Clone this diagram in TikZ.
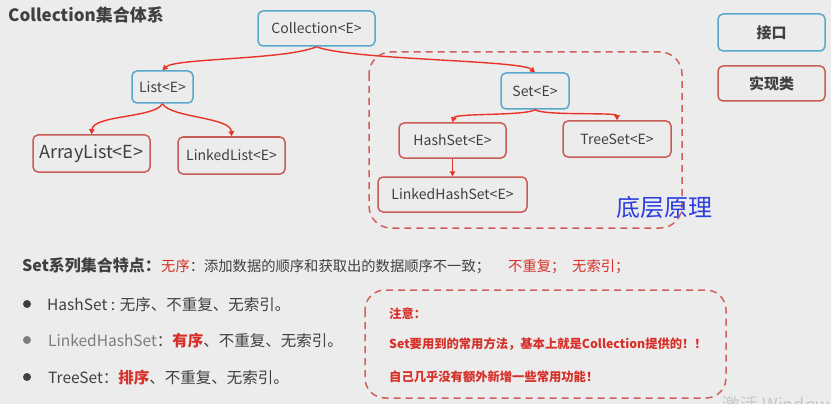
\documentclass[tikz,border=0pt]{standalone}
\usepackage{fontspec}
\setmainfont{Noto Sans CJK SC}
\usetikzlibrary{arrows.meta}
\definecolor{bg}{RGB}{236,236,236}
\definecolor{ifblue}{RGB}{88,168,204}
\definecolor{clsred}{RGB}{200,92,86}
\definecolor{arrred}{RGB}{232,52,38}
\definecolor{txt}{RGB}{64,64,64}
\definecolor{softtxt}{RGB}{125,125,125}
\definecolor{hired}{RGB}{214,48,40}
\definecolor{dashred}{RGB}{208,96,90}
\definecolor{penblue}{RGB}{45,62,225}
\definecolor{wm}{RGB}{200,200,200}
\begin{document}
\begin{tikzpicture}[x=1pt,y=-1pt,
  box/.style={draw, line width=1.5pt, rounded corners=5pt, inner sep=0pt, text=txt, font=\fontsize{14}{16}\selectfont},
  iface/.style={box, draw=ifblue},
  impl/.style={box, draw=clsred},
  arr/.style={draw=arrred, line width=1.4pt, -{Triangle[length=5pt,width=5.5pt]}},
  grp/.style={draw=dashred, line width=1.5pt, dash pattern=on 7pt off 5pt, rounded corners=22pt},
  lbl/.style={anchor=base west, inner sep=0pt},
  dot/.style={circle, fill=#1, minimum size=8pt, inner sep=0pt}
]
\fill[bg] (0,0) rectangle (831,404);
\useasboundingbox (0,0) rectangle (831,404);

% title
\node[lbl, text=txt, font=\fontsize{17}{20}\selectfont\bfseries] (title) at (8,21.5) {Collection集合体系};

% hierarchy
\node[iface, minimum width=117pt, minimum height=35pt] (col) at (316.5,28.5) {Collection<E>};
\node[iface, minimum width=61pt, minimum height=32pt] (list) at (162.5,87) {List<E>};
\node[impl, minimum width=117pt, minimum height=37pt, font=\fontsize{18}{20}\selectfont] (arl) at (91.5,153.5) {ArrayList<E>};
\node[impl, minimum width=107pt, minimum height=37pt] (lkl) at (231.5,155.5) {LinkedList<E>};
\node[iface, minimum width=68pt, minimum height=36pt] (set) at (535,91) {Set<E>};
\node[impl, minimum width=107pt, minimum height=35pt] (hs) at (452.5,140.5) {HashSet<E>};
\node[impl, minimum width=108pt, minimum height=36pt] (ts) at (617,139) {TreeSet<E>};
\node[impl, minimum width=149pt, minimum height=35pt] (lhs) at (452.5,194.5) {LinkedHashSet<E>};

\draw[grp] (369,52) rectangle (682,228);

\draw[arr] (col.south) .. controls (285,60) and (175,58) .. (list.north);
\draw[arr] (col.south) .. controls (350,60) and (520,60) .. (set.north);
\draw[arr] (list.south) .. controls (155,118) and (93,115) .. (arl.north);
\draw[arr] (list.south) .. controls (171,118) and (231,117) .. (lkl.north);
\draw[arr] (set.south) .. controls (525,116) and (455,113) .. (hs.north);
\draw[arr] (set.south) .. controls (545,116) and (617,112) .. (ts.north);
\draw[arr] (hs.south) -- (lhs.north);

% legend
\node[iface, minimum width=107pt, minimum height=37pt, font=\fontsize{15}{17}\selectfont\bfseries] (lgif) at (771.5,32.5) {接口};
\node[impl, minimum width=107pt, minimum height=35pt, font=\fontsize{15}{17}\selectfont\bfseries] (lgcl) at (771.5,83.5) {实现类};

% handwritten note
\node[text=penblue, font=\fontsize{24}{26}\selectfont, inner sep=0pt] (pen) at (664,207) {底层原理};

% features line
\node[lbl, text=txt, font=\fontsize{16}{18}\selectfont\bfseries] (feat) at (22,271) {Set系列集合特点：};
\node[lbl, text=txt, font=\fontsize{14.3}{16}\selectfont] (featb) at (161,271) {\textcolor{hired}{无序}：添加数据的顺序和获取出的数据顺序不一致；};
\node[lbl, text=hired, font=\fontsize{14.3}{16}\selectfont] (featc) at (508,271) {不重复；};
\node[lbl, text=hired, font=\fontsize{14.3}{16}\selectfont] (featd) at (572,271) {无索引；};

% bullets
\node[dot=txt] (b1) at (27,304) {};
\node[dot=softtxt] (b2) at (27,340) {};
\node[dot=txt] (b3) at (27,377) {};
\node[lbl, text=txt, font=\fontsize{15.5}{18}\selectfont] (t1) at (47,310) {HashSet : 无序、不重复、无索引。};
\node[lbl, text=txt, font=\fontsize{15.5}{18}\selectfont] (t2) at (48,346) {\textcolor{softtxt}{LinkedHashSet}：\textcolor{hired}{\bfseries 有序}、不重复、无索引。};
\node[lbl, text=txt, font=\fontsize{15.5}{18}\selectfont] (t3) at (48,383) {TreeSet：\textcolor{hired}{\bfseries 排序}、不重复、无索引。};

% note box
\draw[grp, rounded corners=20pt] (365,290) rectangle (726,398);
\node[lbl, text=hired, font=\fontsize{12.3}{14}\selectfont\bfseries] (n1) at (389,318) {注意：};
\node[lbl, text=hired, font=\fontsize{12.3}{14}\selectfont\bfseries] (n2) at (389,348) {Set要用到的常用方法，基本上就是Collection提供的！！};
\node[lbl, text=hired, font=\fontsize{12.3}{14}\selectfont\bfseries] (n3) at (389,381) {自己几乎没有额外新增一些常用功能！};

% watermark
\node[lbl, text=wm, font=\fontsize{18}{20}\selectfont] (wmk) at (722,411) {激活 Windows};
\end{tikzpicture}
\end{document}
